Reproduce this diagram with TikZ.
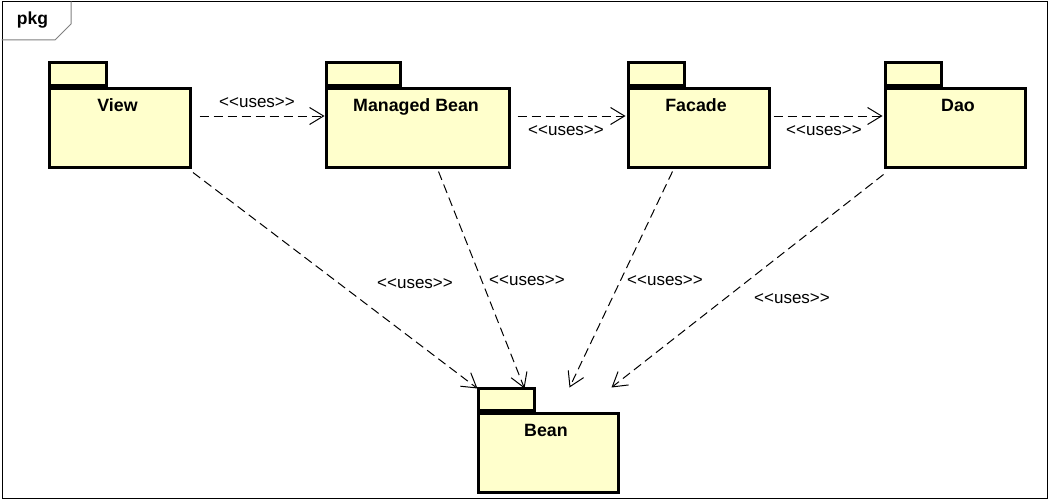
\documentclass[tikz,border=0pt]{standalone}
\usepackage{fontspec}
\setmainfont{Liberation Sans}[Ligatures=TeXOff]
\usetikzlibrary{arrows.meta}
\definecolor{pkgfill}{HTML}{FFFFCC}
\definecolor{tabgray}{HTML}{808080}
\tikzset{
  pkgbody/.style={draw=black, line width=3pt, fill=pkgfill, rectangle, inner sep=0pt, anchor=north west},
  pkgtab/.style={draw=black, line width=3pt, fill=pkgfill, rectangle, inner sep=0pt, anchor=south west},
  pkgname/.style={font=\fontsize{17.8}{21}\selectfont\bfseries, inner sep=0pt, anchor=base},
  useslbl/.style={font=\fontsize{17}{20}\selectfont, inner sep=0pt, anchor=base},
  dep/.style={line width=1pt, dash pattern=on 9pt off 5pt, -{Straight Barb[length=14pt,width=17pt,line width=1pt]}},
}
\begin{document}
\begin{tikzpicture}[x=1pt,y=-1pt]
\useasboundingbox (0,0) rectangle (1049,503);
% frame
\node[draw=black, line width=1pt, rectangle, inner sep=0pt, minimum width=1045pt, minimum height=496pt, anchor=north west] (frame) at (1.5,1.5) {};
\draw[draw=tabgray, line width=1pt] (1.5,40) -- (55,40) -- (71,24) -- (71,1.5);
\node[font=\fontsize{17.5}{20}\selectfont\bfseries, inner sep=0pt, anchor=base] (pkglbl) at (32.5,25) {pkg};
% View
\node[pkgtab, minimum width=57pt, minimum height=22pt] (viewtab) at (47.5,86.5) {};
\node[pkgbody, minimum width=141pt, minimum height=79pt] (view) at (47.5,86.5) {};
\node[pkgname] (viewlbl) at (117.5,111.5) {View};
% Managed Bean
\node[pkgtab, minimum width=74pt, minimum height=22pt] (mbtab) at (324.5,86.5) {};
\node[pkgbody, minimum width=183pt, minimum height=79pt] (mb) at (324.5,86.5) {};
\node[pkgname] (mblbl) at (416,111.5) {Managed Bean};
% Facade
\node[pkgtab, minimum width=56pt, minimum height=22pt] (facadetab) at (626.5,86.5) {};
\node[pkgbody, minimum width=141pt, minimum height=79pt] (facade) at (626.5,86.5) {};
\node[pkgname] (facadelbl) at (696,111.5) {Facade};
% Dao
\node[pkgtab, minimum width=56pt, minimum height=22pt] (daotab) at (883.5,86.5) {};
\node[pkgbody, minimum width=140pt, minimum height=79pt] (dao) at (883.5,86.5) {};
\node[pkgname] (daolbl) at (958,111.5) {Dao};
% Bean
\node[pkgtab, minimum width=56pt, minimum height=22pt] (beantab) at (476.5,411.5) {};
\node[pkgbody, minimum width=140pt, minimum height=79pt] (bean) at (476.5,411.5) {};
\node[pkgname] (beanlbl) at (546,436.5) {Bean};
% horizontal dependencies
\draw[dep] ([xshift=8pt,yshift=11.5pt]view.east) -- ([yshift=11.5pt]mb.west);
\draw[dep] ([xshift=7pt,yshift=11.5pt]mb.east) -- ([xshift=-1pt,yshift=11.5pt]facade.west);
\draw[dep] ([xshift=3pt,yshift=11.5pt]facade.east) -- ([xshift=-1pt,yshift=11.5pt]dao.west);
\node[useslbl] (l1) at (257,107) {<<uses>>};
\node[useslbl] (l2) at (566,135) {<<uses>>};
\node[useslbl] (l3) at (824,135) {<<uses>>};
% diagonal dependencies to Bean
\draw[dep] ([xshift=1.5pt,yshift=-4pt]view.south east) -- ([xshift=1pt,yshift=-2pt]beantab.north west);
\draw[dep] ([xshift=114pt,yshift=-3pt]mb.south west) -- ([xshift=48pt,yshift=-2pt]beantab.north west);
\draw[dep] ([xshift=46pt,yshift=-3pt]facade.south west) -- ([xshift=93pt,yshift=-1pt]beantab.north west);
\draw[dep] ([xshift=0pt,yshift=-6pt]dao.south west) -- ([xshift=135pt,yshift=-1pt]beantab.north west);
\node[useslbl] (l4) at (415,288) {<<uses>>};
\node[useslbl] (l5) at (527,285.5) {<<uses>>};
\node[useslbl] (l6) at (665,285.5) {<<uses>>};
\node[useslbl] (l7) at (792,303) {<<uses>>};
\end{tikzpicture}
\end{document}
